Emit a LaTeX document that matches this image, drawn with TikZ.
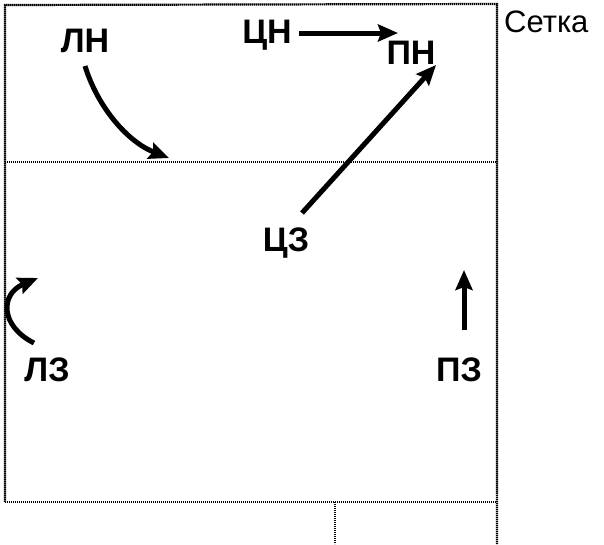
\documentclass[tikz,border=0pt]{standalone}
\usepackage{fontspec}
\setmainfont{Liberation Sans}[BoldFont={Liberation Sans Bold}]
\usetikzlibrary{arrows.meta}
\begin{document}
\begin{tikzpicture}[x=1pt,y=-1pt,
  border/.style={draw=black,line width=2.2pt,dash pattern=on 1.4pt off 0.6pt},
  lbl/.style={font=\fontsize{34}{34}\selectfont\bfseries,inner sep=0pt},
  mv/.style={line width=5pt,-{Stealth[length=20pt,width=17pt,inset=3pt]}}]
\useasboundingbox (0,0) rectangle (604,544);
% court outline
\coordinate (tl) at (5,5);
\coordinate (tr) at (497,4);
\coordinate (nl) at (5,162);
\coordinate (nr) at (497,162);
\coordinate (bl) at (5,502);
\coordinate (br) at (497,502);
\coordinate (rb) at (497,544);
\coordinate (mt) at (335,502);
\coordinate (mb) at (335,544);
\draw[border] (bl) -- (tl) -- (tr) -- (rb);
\draw[border] (nl) -- (nr);
\draw[border] (bl) -- (br);
\draw[border] (mt) -- (mb);
% labels
\node[font=\fontsize{31}{31}\selectfont,anchor=west,inner sep=0pt] (setka) at (504,22) {Сетка};
\node[lbl] (ln) at (85,41) {ЛН};
\node[lbl] (cn) at (267,35) {ЦН};
\node[lbl] (pn) at (411,53) {ПН};
\node[lbl] (cz) at (286,243) {ЦЗ};
\node[lbl] (lz) at (47,370) {ЛЗ};
\node[lbl] (pz) at (459,370) {ПЗ};
% arrows
\coordinate (cnEnd) at (398,33);
\coordinate (czStart) at (302,213);
\coordinate (pnEnd) at (436,65);
\coordinate (lnStart) at (85,66);
\coordinate (lnEnd) at (169,158);
\coordinate (lzStart) at (34,343);
\coordinate (lzEnd) at (38,278);
\coordinate (pzStart) at (464,330);
\coordinate (pzEnd) at (464,270);
\draw[mv] (lnStart) .. controls (98,108) and (128,142) .. (lnEnd);
\draw[mv] (299,33) -- (cnEnd);
\draw[mv] (czStart) -- (pnEnd);
\draw[mv] (lzStart) .. controls (0,326) and (0,294) .. (lzEnd);
\draw[mv] (pzStart) -- (pzEnd);
\end{tikzpicture}
\end{document}
